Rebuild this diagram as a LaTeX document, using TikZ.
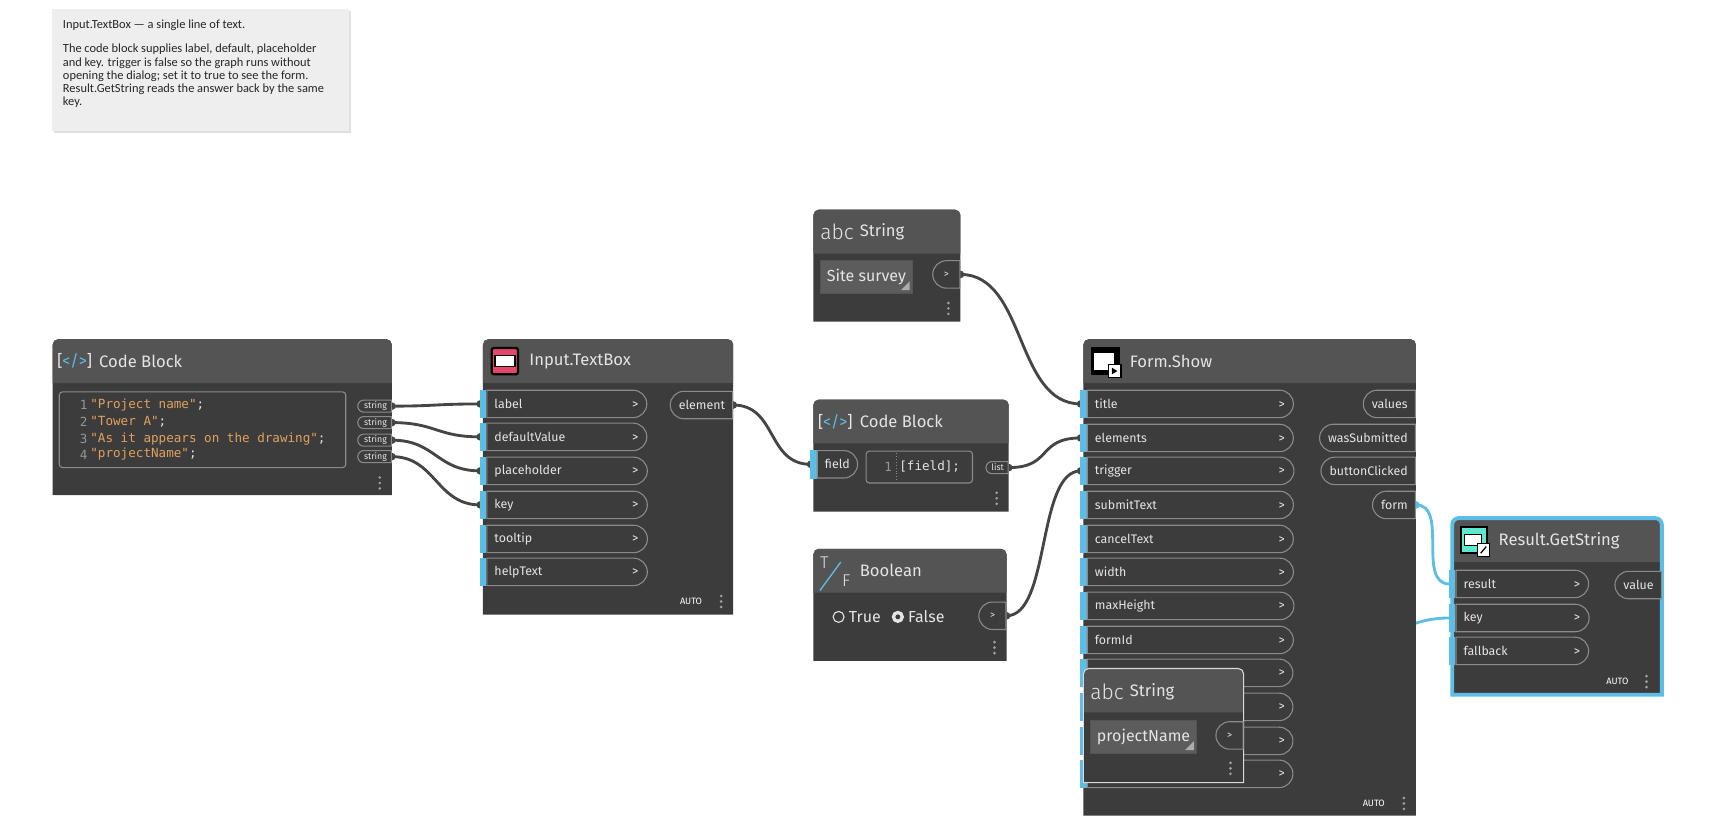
\documentclass[tikz,border=0pt]{standalone}
\usepackage{fontspec}
\setmainfont{Fira Sans}
\newfontfamily\codefont{DejaVu Sans Mono}
\newfontfamily\notefont{Carlito}
\newfontfamily\lightfont{Fira Sans Light}
\usepackage{tikz}
\usetikzlibrary{positioning,shapes.misc}

\definecolor{nodebody}{HTML}{3C3C3C}
\definecolor{nodehead}{HTML}{545454}
\definecolor{pillc}{HTML}{8A8A8A}
\definecolor{txt}{HTML}{E4E4E4}
\definecolor{portblue}{HTML}{5CBDE5}
\definecolor{wirec}{HTML}{454545}
\definecolor{codestr}{HTML}{E0A15E}
\definecolor{notebg}{HTML}{EEEEEE}
\definecolor{valbox}{HTML}{5C5C5C}
\definecolor{pinkc}{HTML}{E8456B}
\definecolor{tealc}{HTML}{5EE8D0}

% one reference pixel in pt
\newcommand\upx[1]{\fpeval{(#1)*0.5488}pt}
\newcommand\portfont{\fontsize{6.2}{7}\selectfont}
\newcommand\nodeframe[2]{%
  \fill[nodebody] (0,#2) [rounded corners=\upx{5}]-- (0,0) -- (#1,0) [sharp corners]-- (#1,#2) -- cycle;
  \fill[nodehead] (0,40) [rounded corners=\upx{5}]-- (0,0) -- (#1,0) [sharp corners]-- (#1,40) -- cycle;}
\newcommand\menudots[2]{\foreach \d in {-5,0,5} \fill[pillc!80!white] (#1,{#2+\d}) circle[radius=\upx{1.3}];}
\newcommand\portstripe[1]{\fill[portblue] (-3,{#1-13}) rectangle (3,{#1+13});}

\tikzset{
ntitle/.style={anchor=west, inner sep=0, text=txt, font=\fontsize{8.3}{10}\selectfont},
inport/.style={rounded rectangle, rounded rectangle left arc=none, draw=pillc, fill=nodebody,
  line width=\upx{1}, minimum height=\upx{25}, text width=\upx{#1-15}, inner xsep=\upx{7},
  inner ysep=0, anchor=west, align=left, font=\portfont, text=txt},
outport/.style={rounded rectangle, rounded rectangle right arc=none, draw=pillc, fill=nodebody,
  line width=\upx{1}, minimum height=\upx{25}, inner xsep=\upx{7}, inner ysep=0,
  anchor=east, font=\portfont, text=txt},
smallport/.style={outport, minimum height=\upx{11}, inner xsep=\upx{4},
  font=\fontsize{4.4}{5}\selectfont},
code/.style={anchor=west, inner sep=0, text=txt, font=\codefont\fontsize{6.3}{7}\selectfont},
codenum/.style={code, anchor=east, text=pillc!90!white},
valuebox/.style={anchor=west, fill=valbox, draw=nodehead, minimum height=\upx{30},
  inner xsep=\upx{6}, text=txt, font=\fontsize{8}{9}\selectfont},
auto/.style={anchor=east, inner sep=0, text=white, font=\fontsize{4.6}{5}\selectfont},
wire/.style={draw=wirec, line width=\upx{2.6}},
bluewire/.style={draw=portblue, line width=\upx{2.6}}
}

\begin{document}
\begin{tikzpicture}[x=0.5488pt, y=-0.5488pt]
\useasboundingbox (0,0) rectangle (1567,756.2);
\pgfdeclarelayer{background}
\pgfsetlayers{background,main}

% note
\fill[black!12] (49,10) rectangle (320,121);
\node[fill=notebg, anchor=north west, minimum width=\upx{271}, minimum height=\upx{111}] (note) at (47,8) {};
\node[anchor=north west, inner sep=0, align=left, text=black!85,
  font=\notefont\fontsize{6.2}{6.6}\selectfont] (note-text) at (57,18)
  {Input.TextBox — a single line of text.\\[\upx{10}]
   The code block supplies label, default, placeholder\\
   and key. trigger is false so the graph runs without\\
   opening the dialog; set it to true to see the form.\\
   Result.GetString reads the answer back by the same\\
   key.};

% Code Block
\begin{scope}[shift={(48,309)}]
\nodeframe{309}{142}
\node[anchor=center, inner sep=0, font=\fontsize{8}{9}\selectfont] (cb-icon) at (20,20)
  {\textcolor{txt!70}{[}\textcolor{portblue}{</>}\textcolor{txt!70}{]}};
\node[ntitle] (cb-title) at (42,20) {Code Block};
\draw[pillc, rounded corners=\upx{3}, line width=\upx{1}] (6,48) rectangle (267,117);
\foreach \y/\n/\s in {60/1/Project name, 75/2/Tower A, 91/3/As it appears on the drawing, 105/4/projectName}
  {\node[codenum] at (32,\y) {\n};
   \node[code] (cb-l\n) at (34,\y) {\textcolor{codestr}{"\s"};};}
\foreach \y [count=\i] in {61,76,92,107}
  \node[smallport] (cb-o\i) at (309,\y) {string};
\menudots{298}{131}
\end{scope}

% Input.TextBox
\begin{scope}[shift={(440,309)}]
\nodeframe{228}{251}
\filldraw[fill=pinkc, draw=black, line width=\upx{2}, rounded corners=\upx{2}] (8,8) rectangle (32,32);
\filldraw[fill=white, draw=black, line width=\upx{1.5}] (11,15) rectangle (29,25);
\node[ntitle] (tb-title) at (42,20) {Input.TextBox};
\foreach \y/\t in {59/label, 89/defaultValue, 120/placeholder, 151/key, 182/tooltip, 212/helpText}
  {\portstripe{\y}
   \node[inport=146] (tb-\t) at (3,\y) {\t\hfill >};}
\node[outport] (tb-element) at (228,60) {element};
\node[auto] at (200,239) {AUTO};
\menudots{217}{239}
\end{scope}

% String (title)
\begin{scope}[shift={(741,191)}]
\nodeframe{134}{102}
\node[anchor=west, inner sep=0, text=txt, font=\lightfont\fontsize{10.5}{11}\selectfont] (s1-icon) at (6,20) {abc};
\node[ntitle] (s1-title) at (42,20) {String};
\node[valuebox] (s1-value) at (6,61) {Site survey};
\fill[pillc!70!white] (s1-value.south east) ++(-3,-3) -- ++(-8,0) -- ++(8,-8) -- cycle;
\node[outport, minimum width=\upx{32}] (s1-out) at (134,59) {\tiny >};
\menudots{123}{90}
\end{scope}

% Code Block (field)
\begin{scope}[shift={(741,364)}]
\nodeframe{178}{102}
\node[anchor=center, inner sep=0, font=\fontsize{8}{9}\selectfont] (cb2-icon) at (20,20)
  {\textcolor{txt!70}{[}\textcolor{portblue}{</>}\textcolor{txt!70}{]}};
\node[ntitle] (cb2-title) at (42,20) {Code Block};
\portstripe{59}
\node[inport=44, text width=\upx{22}] (cb2-field) at (3,59) {field};
\draw[pillc, rounded corners=\upx{3}, line width=\upx{1}] (48,47) rectangle (145,76);
\node[codenum] at (72,61) {1};
\draw[pillc, densely dotted, line width=\upx{0.8}] (76,49) -- (76,74);
\node[code] (cb2-line) at (78,61) {[field];};
\node[smallport] (cb2-list) at (178,62) {list};
\menudots{167}{90}
\end{scope}

% Boolean
\begin{scope}[shift={(741,500)}]
\nodeframe{176}{102}
\node[inner sep=0, text=txt, font=\lightfont\fontsize{8.5}{9}\selectfont] (bo-t) at (10,13) {T};
\node[inner sep=0, text=txt, font=\lightfont\fontsize{8.5}{9}\selectfont] (bo-f) at (30,29) {F};
\draw[portblue, line width=\upx{1.2}] (6,38) -- (25,12);
\node[ntitle] (bo-title) at (42,20) {Boolean};
\draw[txt, line width=\upx{1}] (23,62) circle[radius=5];
\node[anchor=west, inner sep=0, text=txt, font=\fontsize{8}{9}\selectfont] (bo-true) at (32,62) {True};
\draw[txt, line width=\upx{3}] (77,62) circle[radius=4];
\node[anchor=west, inner sep=0, text=txt, font=\fontsize{8}{9}\selectfont] (bo-false) at (86,62) {False};
\node[outport, minimum width=\upx{32}] (bo-out) at (176,61) {\tiny >};
\menudots{165}{90}
\end{scope}

% Form.Show
\begin{scope}[shift={(987,309)}]
\nodeframe{303}{434}
\fill[black] (7,7) rectangle (33,33);
\fill[white] (10,13) rectangle (28,28);
\fill[black] (12,9) rectangle (13,11) (15,9) rectangle (16,11);
\filldraw[fill=white, draw=black, line width=\upx{1.5}] (23,23) rectangle (34,35);
\fill[black] (26,26) -- (31,29) -- (26,32) -- cycle;
\node[ntitle] (fs-title-lbl) at (42,20) {Form.Show};
\foreach \y/\t [count=\i] in {59/title, 90/elements, 120/trigger, 151/submitText, 182/cancelText,
  212/width, 243/maxHeight, 274/formId, 304/{}, 335/{}, 366/{}, 396/{}}
  {\portstripe{\y}
   \node[inport=188] (fs-\i) at (3,\y) {\t\hfill >};}
\node[outport] (fs-values) at (303,59) {values};
\node[outport] (fs-submitted) at (303,90) {wasSubmitted};
\node[outport] (fs-clicked) at (303,120) {buttonClicked};
\node[outport] (fs-form) at (303,151) {form};
\node[auto] at (275,423) {AUTO};
\menudots{292}{423}
\end{scope}

% String (key), lying over Form.Show
\begin{scope}[shift={(987,609)}]
\nodeframe{146}{104}
\draw[black!15, line width=\upx{1}, rounded corners=\upx{5}] (0,104) -- (0,0) -- (146,0) [sharp corners]-- (146,104) -- cycle;
\node[anchor=west, inner sep=0, text=txt, font=\lightfont\fontsize{10.5}{11}\selectfont] (s2-icon) at (6,21) {abc};
\node[ntitle] (s2-title) at (42,21) {String};
\node[valuebox] (s2-value) at (6,62) {projectName};
\fill[pillc!70!white] (s2-value.south east) ++(-3,-3) -- ++(-8,0) -- ++(8,-8) -- cycle;
\node[outport, minimum width=\upx{32}] (s2-out) at (146,61) {\tiny >};
\menudots{134}{91}
\end{scope}

% Result.GetString
\begin{scope}[shift={(1323,472)}]
\nodeframe{191}{161}
\draw[portblue, line width=\upx{3.5}, rounded corners=\upx{6}] (0,161) -- (0,0) -- (191,0) [sharp corners]-- (191,161) -- cycle;
\filldraw[fill=tealc, draw=black, line width=\upx{2}] (8,8) rectangle (32,32);
\filldraw[fill=white, draw=black, line width=\upx{1}] (11,15) rectangle (27,25);
\filldraw[fill=white, draw=black, line width=\upx{1.5}] (23,23) rectangle (34,35);
\draw[black, line width=\upx{1.2}] (26,32) -- (31,26);
\node[ntitle] (rg-title) at (42,21) {Result.GetString};
\foreach \y/\t in {60/result, 91/key, 121/fallback}
  {\portstripe{\y}
   \node[inport=121] (rg-\t) at (3,\y) {\t\hfill >};}
\node[outport] (rg-value) at (191,61) {value};
\node[auto] at (161,149) {AUTO};
\menudots{177}{149}
\end{scope}

% connectors
\begin{pgfonlayer}{background}
\foreach \a/\b in {cb-o1/tb-label, cb-o2/tb-defaultValue, cb-o3/tb-placeholder, cb-o4/tb-key,
  tb-element/cb2-field, cb2-list/fs-2, bo-out/fs-3}
  {\draw[wire] (\a.east) .. controls +(40,0) and +(-40,0) .. ([xshift=-3]\b.west);
   \fill[wirec] (\a.east) circle[radius=3.5];
   \fill[wirec] ([xshift=-3]\b.west) circle[radius=3.5];}
\draw[wire] (s1-out.east) .. controls +(60,0) and +(-60,0) .. ([xshift=-3]fs-1.west);
\fill[wirec] (s1-out.east) circle[radius=3.5];
\fill[wirec] ([xshift=-3]fs-1.west) circle[radius=3.5];
\draw[bluewire] (fs-form.east) .. controls +(30,0) and +(-30,0) .. ([xshift=-3]rg-result.west);
\fill[portblue] (fs-form.east) circle[radius=3.5];
\draw[bluewire] (s2-out.east) .. controls +(90,0) and +(-90,0) .. ([xshift=-3]rg-key.west);
\end{pgfonlayer}
\end{tikzpicture}
\end{document}
